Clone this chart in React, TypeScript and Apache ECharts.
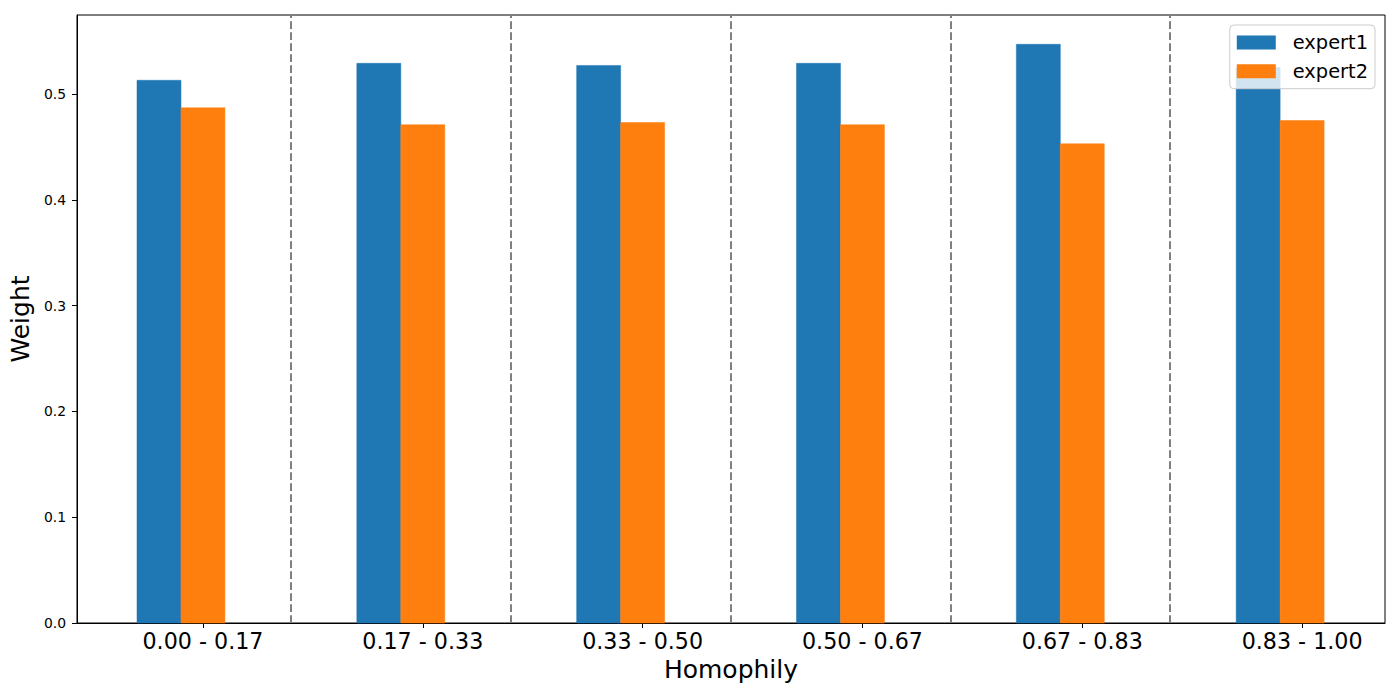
import React, { useEffect, useRef } from "react";
import * as echarts from "echarts";

const categories = ["0.00 - 0.17", "0.17 - 0.33", "0.33 - 0.50", "0.50 - 0.67", "0.67 - 0.83", "0.83 - 1.00"];
const expert1 = [0.513, 0.529, 0.527, 0.529, 0.547, 0.525];
const expert2 = [0.487, 0.471, 0.473, 0.471, 0.453, 0.475];
const yTicks = [0, 0.1, 0.2, 0.3, 0.4, 0.5];

const FONT = "DejaVu Sans";
const BAR_W = 0.2;
const C1 = "#1f77b4";
const C2 = "#ff7f0e";

function barSeries(name: string, values: number[], offset: number, color: string) {
  return {
    name,
    type: "custom",
    itemStyle: { color },
    encode: { x: 0, y: 1 },
    data: values.map((v, i) => [i, v]),
    renderItem: (params: any, api: any) => {
      const i = api.value(0);
      const v = api.value(1);
      const p0 = api.coord([i + offset - BAR_W / 2, v]);
      const p1 = api.coord([i + offset + BAR_W / 2, 0]);
      return {
        type: "rect",
        shape: { x: p0[0], y: p0[1], width: p1[0] - p0[0], height: p1[1] - p0[1] },
        style: { fill: color, stroke: color, lineWidth: 0.5 },
      };
    },
  };
}

export default function App() {
  const ref = useRef<HTMLDivElement>(null);
  useEffect(() => {
    document.body.style.margin = "0";
    const chart = echarts.init(ref.current!, null, { renderer: "svg" });
    const s1: any = barSeries("expert1", expert1, -0.2, C1);
    s1.markLine = {
      silent: true,
      symbol: ["none", "none"],
      label: { show: false },
      lineStyle: { color: "#808080", width: 2, type: [7.7, 3.3] },
      data: categories.slice(0, -1).map((_, i) => ({ xAxis: i + 0.4 })),
    };
    const s2: any = barSeries("expert2", expert2, 0, C2);
    chart.setOption({
      animation: false,
      backgroundColor: "#ffffff",
      textStyle: { fontFamily: FONT },
      grid: {
        left: 76,
        right: 15,
        top: 15,
        bottom: 77,
        show: true,
        borderColor: "#000",
        borderWidth: 1,
        backgroundColor: "transparent",
      },
      legend: {
        data: ["expert1", "expert2"],
        orient: "vertical",
        right: 25,
        top: 25,
        icon: "rect",
        itemWidth: 39,
        itemHeight: 14,
        itemGap: 7.7,
        padding: [7, 7, 7, 7],
        backgroundColor: "rgba(255,255,255,0.8)",
        borderColor: "#cccccc",
        borderWidth: 1,
        borderRadius: 4,
        textStyle: {
          fontFamily: FONT,
          fontSize: 19.4,
          color: "#000",
          lineHeight: 21,
          padding: [0, 0, 0, 12],
        },
      },
      xAxis: {
        type: "value",
        min: -0.573,
        max: 5.377,
        name: "Homophily",
        nameLocation: "middle",
        nameGap: 33,
        nameTextStyle: { fontFamily: FONT, fontSize: 25, color: "#000" },
        splitLine: { show: false },
        axisLine: { show: true, onZero: false, lineStyle: { color: "#000", width: 1 } },
        axisTick: {
          show: true,
          length: 5,
          lineStyle: { color: "#000", width: 1 },
          customValues: categories.map((_, i) => i),
        },
        axisLabel: {
          fontFamily: FONT,
          fontSize: 22.2,
          color: "#000",
          margin: 7,
          customValues: categories.map((_, i) => i),
          formatter: (v: number) => categories[Math.round(v)] ?? "",
        },
      },
      yAxis: {
        type: "value",
        min: 0,
        max: 0.5747,
        name: "Weight",
        nameLocation: "middle",
        nameRotate: 90,
        nameGap: 37,
        nameTextStyle: { fontFamily: FONT, fontSize: 25, color: "#000" },
        splitLine: { show: false },
        axisLine: { show: true, onZero: false, lineStyle: { color: "#000", width: 1 } },
        axisTick: {
          show: true,
          length: 5,
          lineStyle: { color: "#000", width: 1 },
          customValues: yTicks,
        },
        axisLabel: {
          fontFamily: FONT,
          fontSize: 13.9,
          color: "#000",
          margin: 11,
          customValues: yTicks,
          formatter: (v: number) => v.toFixed(1),
        },
      },
      series: [s1, s2],
    });
    return () => chart.dispose();
  }, []);
  return <div ref={ref} style={{ width: 1400, height: 700 }} />;
}
